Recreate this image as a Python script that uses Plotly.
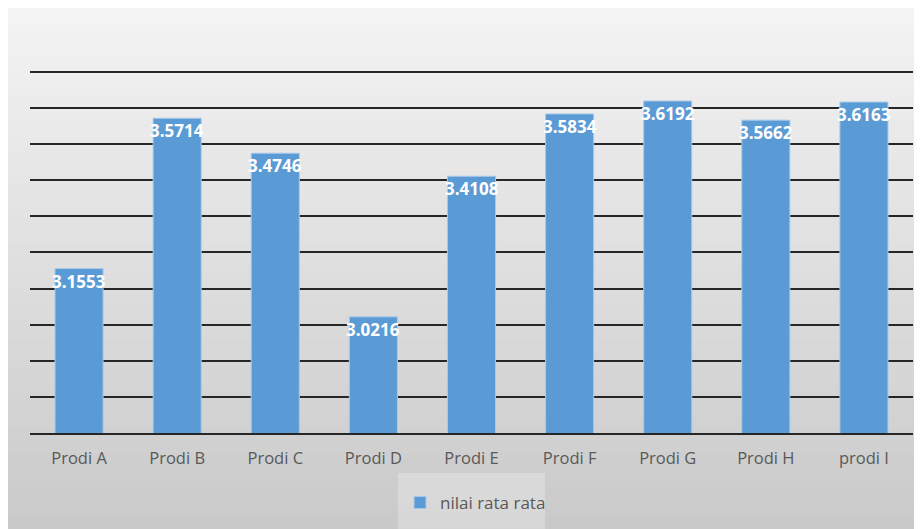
import plotly.graph_objects as go

categories = ["Prodi A", "Prodi B", "Prodi C", "Prodi D", "Prodi E", "Prodi F", "Prodi G", "Prodi H", "prodi I"]
values = [3.1553, 3.5714, 3.4746, 3.0216, 3.4108, 3.5834, 3.6192, 3.5662, 3.6163]
labels = ["3.1553", "3.5714", "3.4746", "3.0216", "3.4108", "3.5834", "3.6192", "3.5662", "3.6163"]
series_name = "nilai rata rata"
y_min, y_max = 2.7, 3.705
grid_vals = [2.7, 2.8, 2.9, 3.0, 3.1, 3.2, 3.3, 3.4, 3.5, 3.6, 3.7]

W, H = 914, 521
ML, MR, MT, MB = 22, 9, 62, 95
PW, PH = W - ML - MR, H - MT - MB

def px_to_paper_x(px):
    return (px - ML) / PW

def px_to_paper_y(py):
    return (H - MB - py) / PH

fig = go.Figure()
fig.add_trace(go.Bar(
    x=categories, y=values, name=series_name,
    marker=dict(color="#5b9bd5", line=dict(color="#a9c9ea", width=1)),
    showlegend=True,
))

# data labels
for c, v, t in zip(categories, values, labels):
    fig.add_annotation(x=c, y=v, text="<b>" + t + "</b>", showarrow=False,
                       yanchor="top", yshift=1,
                       font=dict(color="white", size=17, family="Open Sans"))

# gradient background via strips
shapes = []
n = 60
x0p, x1p = px_to_paper_x(0), px_to_paper_x(W + 2)
top, bot = -1, H + 2
c_top, c_bot = 244, 201
for i in range(n):
    ya = top + (bot - top) * i / n
    yb = top + (bot - top) * (i + 1) / n + 0.5
    g = round(c_top + (c_bot - c_top) * (i + 0.5) / n)
    shapes.append(dict(type="rect", xref="paper", yref="paper", layer="below",
                       x0=x0p, x1=x1p, y0=px_to_paper_y(yb), y1=px_to_paper_y(ya),
                       fillcolor=f"rgb({g},{g},{g})", line=dict(width=0)))
# legend backdrop
shapes.append(dict(type="rect", xref="paper", yref="paper", layer="below",
                   x0=px_to_paper_x(390), x1=px_to_paper_x(537),
                   y0=px_to_paper_y(H + 2), y1=px_to_paper_y(466),
                   fillcolor="rgba(255,255,255,0.25)", line=dict(width=0)))
fig.update_layout(shapes=shapes)

fig.update_layout(
    width=W, height=H,
    margin=dict(l=ML, r=MR, t=MT, b=MB),
    paper_bgcolor="white",
    plot_bgcolor="rgba(0,0,0,0)",
    bargap=0.51,
    font=dict(family="Open Sans", color="#595959", size=16),
    xaxis=dict(showgrid=False, showline=True, linecolor="#262626", linewidth=2,
               ticks="outside", ticklen=9, tickcolor="rgba(0,0,0,0)",
               tickfont=dict(size=16.5, color="#595959"), layer="above traces"),
    yaxis=dict(range=[y_min, y_max], tickmode="array", tickvals=grid_vals, showgrid=True,
               gridcolor="#262626", gridwidth=2, showticklabels=False,
               zeroline=False, showline=False),
    legend=dict(orientation="h", x=px_to_paper_x(392), xanchor="left",
                y=px_to_paper_y(495), yanchor="middle",
                bgcolor="rgba(0,0,0,0)", font=dict(size=17, color="#595959"),
                itemwidth=30),
)

fig.write_html("out.html")
